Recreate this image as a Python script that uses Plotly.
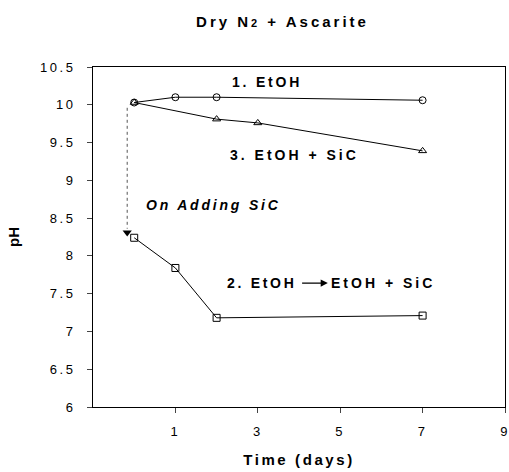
import plotly.graph_objects as go

# pH vs time under dry N2 + Ascarite
days_etoh = [0, 1, 2, 7]
ph_etoh = [10.03, 10.10, 10.10, 10.06]

days_switch = [0, 1, 2, 7]
ph_switch = [8.24, 7.84, 7.18, 7.21]

days_sic = [0, 2, 3, 7]
ph_sic = [10.03, 9.81, 9.76, 9.39]

# dotted guide showing the drop when SiC is added
guide_x = [-0.17, -0.17]
guide_y = [9.96, 8.36]
guide_tip = 8.31

x_ticks = [1, 3, 5, 7, 9]
x_labels = ["1", "3", "5", "7", "9"]
y_ticks = [6, 6.5, 7, 7.5, 8, 8.5, 9, 9.5, 10, 10.5]
y_labels = ["6", "6.5", "7", "7.5", "8", "8.5", "9", "9.5", "10", "10.5"]

FONT = "Liberation Sans, Arial, sans-serif"


def spaced(text, px):
    """Wrap text in a span with extra letter spacing."""
    return f'<span style="letter-spacing:{px}px">{text}</span>'


line_style = dict(color="black", width=1)

fig = go.Figure()

fig.add_trace(go.Scatter(
    x=guide_x, y=guide_y, mode="lines",
    line=dict(color="#555555", width=1, dash="dot"), hoverinfo="skip"))
fig.add_trace(go.Scatter(
    x=[guide_x[-1]], y=[guide_tip], mode="markers",
    marker=dict(symbol="triangle-down", size=8, color="black"), hoverinfo="skip"))

for xs, ys, sym in [(days_etoh, ph_etoh, "circle-open"),
                    (days_sic, ph_sic, "triangle-up-open"),
                    (days_switch, ph_switch, "square-open")]:
    fig.add_trace(go.Scatter(
        x=xs, y=ys, mode="lines+markers", line=line_style,
        marker=dict(symbol=sym, size=7, color="black",
                    line=dict(color="black", width=1))))

label_font = dict(family=FONT, size=14, color="black")
fig.add_annotation(x=3.22, y=10.30, text="<b>" + spaced("1. EtOH", 2.8) + "</b>",
                   showarrow=False, font=label_font)
fig.add_annotation(x=3.90, y=9.34, text="<b>" + spaced("3. EtOH + SiC", 3) + "</b>",
                   showarrow=False, font=label_font)
fig.add_annotation(x=1.92, y=8.67, text="<b><i>" + spaced("On Adding SiC", 2.8) + "</i></b>",
                   showarrow=False, font=label_font)
# "2. EtOH" with an arrow pointing to "EtOH + SiC"
fig.add_annotation(x=4.70, y=7.64, ax=3.08, ay=7.64, axref="x", ayref="y",
                   text="<b>" + spaced("2. EtOH", 2.7) + "</b>", font=label_font,
                   showarrow=True, arrowhead=2, arrowsize=1.1, arrowwidth=1.3,
                   arrowcolor="black", standoff=0, startstandoff=5)
fig.add_annotation(x=4.72, y=7.64, xanchor="left",
                   text="<b>" + spaced("EtOH + SiC", 3) + "</b>",
                   showarrow=False, font=label_font)

title_text = ("<b>" + spaced("Dry N", 3)
              + '<span style="font-size:11px;letter-spacing:3px">2</span>'
              + spaced(" + Ascarite", 3) + "</b>")

fig.update_layout(
    width=509, height=472,
    margin=dict(l=93, r=4, t=67, b=65),
    paper_bgcolor="white", plot_bgcolor="white",
    showlegend=False,
    font=dict(family=FONT, size=13, color="black"),
    title=dict(text=title_text,
               x=0.555, xanchor="center", y=0.953, yanchor="middle",
               font=dict(family=FONT, size=15, color="black")),
    xaxis=dict(range=[-1, 9], tickvals=x_ticks,
               ticktext=[spaced(t, 2.5) for t in x_labels],
               ticks="outside", ticklen=5, ticklabelstandoff=7,
               ticklabeloverflow="allow", automargin=False,
               showline=True, linecolor="black", linewidth=1, mirror=True,
               showgrid=False, zeroline=False,
               title=dict(text="<b>" + spaced("Time (days)", 2.6) + "</b>",
                          font=dict(family=FONT, size=15), standoff=16)),
    yaxis=dict(range=[6, 10.5], tickvals=y_ticks,
               ticktext=[spaced(t, 2.5) for t in y_labels],
               ticks="outside", ticklen=5, ticklabelstandoff=9,
               automargin=False,
               showline=True, linecolor="black", linewidth=1, mirror=True,
               showgrid=False, zeroline=False,
               title=dict(text="<b>pH</b>", font=dict(family=FONT, size=15), standoff=16)),
)

fig.write_html("out.html")
